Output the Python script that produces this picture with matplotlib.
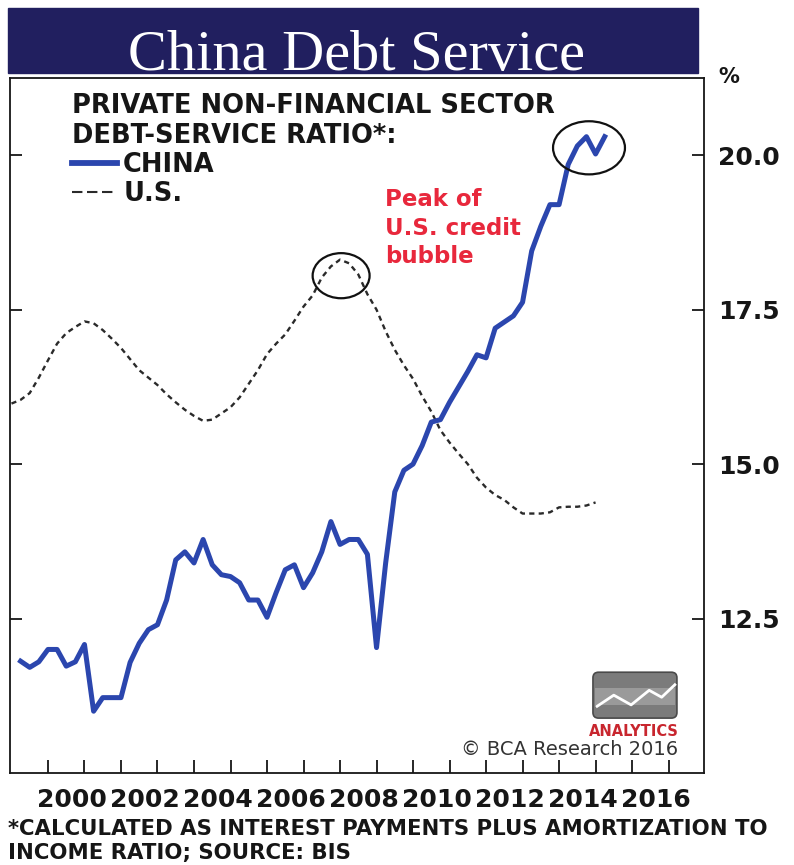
import numpy as np
import matplotlib.pyplot as plt
from matplotlib.lines import Line2D
from matplotlib.patches import Ellipse, Rectangle, FancyBboxPatch

# quarterly debt-service ratios (%)
china_start = 1999.25
china_ratio = [11.81, 11.71, 11.80,
               12.00, 12.00, 11.73, 11.80,
               12.08, 11.00, 11.22, 11.22,
               11.22, 11.79, 12.10, 12.32,
               12.40, 12.80, 13.45, 13.58,
               13.40, 13.78, 13.37, 13.21,
               13.18, 13.08, 12.80, 12.80,
               12.52, 12.92, 13.29, 13.37,
               13.00, 13.24, 13.58, 14.07,
               13.70, 13.78, 13.78, 13.54,
               12.03, 13.40, 14.55, 14.90,
               15.00, 15.30, 15.68, 15.72,
               16.00, 16.25, 16.50, 16.77,
               16.72, 17.20, 17.30, 17.40,
               17.62, 18.45, 18.85, 19.20,
               19.20, 19.85, 20.15, 20.30,
               20.02, 20.30]

us_start = 1999.0
us_ratio = [15.98, 16.04, 16.15, 16.40,
            16.68, 16.95, 17.12, 17.22,
            17.31, 17.28, 17.17, 17.03,
            16.88, 16.70, 16.52, 16.40,
            16.28, 16.13, 16.00, 15.88,
            15.78, 15.70, 15.72, 15.82,
            15.92, 16.08, 16.30, 16.52,
            16.78, 16.95, 17.10, 17.32,
            17.55, 17.73, 18.02, 18.20,
            18.31, 18.25, 18.07, 17.75,
            17.50, 17.15, 16.85, 16.60,
            16.38, 16.10, 15.85, 15.55,
            15.35, 15.17, 15.00, 14.78,
            14.62, 14.50, 14.42, 14.30,
            14.20, 14.20, 14.20, 14.22,
            14.30, 14.31, 14.31, 14.33,
            14.38]

year_ticks = list(range(2000, 2018))
year_labels = [str(y) for y in range(2000, 2017, 2)]
pct_ticks = [12.5, 15.0, 17.5, 20.0]

china_x = china_start + 0.25 * np.arange(len(china_ratio))
us_x = us_start + 0.25 * np.arange(len(us_ratio))

plt.rcParams['font.family'] = 'DejaVu Sans'
ink = '#161616'
blue = '#2b46ae'
dash_col = '#2a2a2a'

fig = plt.figure(figsize=(7.94, 8.65), dpi=100)
ax = fig.add_axes([10/794, 92/865, 694/794, 695/865])

ax.plot(china_x, china_ratio, color=blue, lw=3.6, solid_joinstyle='round',
        zorder=3)
ax.plot(us_x, us_ratio, color=dash_col, lw=1.7, ls=(0, (2.2, 1.8)), zorder=2)

ax.set_xlim(1998.96, 2017.97)
ax.set_ylim(10.0, 21.25)

# x axis: ticks at year starts, labels centred in the year
ax.set_xticks(year_ticks)
ax.set_xticks([int(s) + 0.66 for s in year_labels], labels=year_labels, minor=True)
ax.tick_params(axis='x', which='major', direction='in', length=9.4, width=1.3,
               labelbottom=False, color=ink)
ax.tick_params(axis='x', which='minor', length=0, pad=11, labelsize=18,
               labelcolor=ink)

ax.set_yticks(pct_ticks)
ax.set_yticklabels([f'{v:.1f}' for v in pct_ticks])
ax.tick_params(axis='y', direction='in', length=8.6, width=1.3, left=True,
               right=True, labelleft=False, labelright=True, pad=10,
               labelsize=18, labelcolor=ink, color=ink)
for lab in ax.get_xticklabels(minor=True) + ax.get_yticklabels():
    lab.set_fontweight('bold')

for sp in ax.spines.values():
    sp.set_linewidth(1.3)
    sp.set_color(ink)

# circles highlighting the peaks
ax.add_patch(Ellipse((2008.03, 18.05), 1.56, 0.73, fill=False, lw=1.6,
                     ec='#111111', zorder=4))
ax.add_patch(Ellipse((2014.82, 20.12), 1.97, 0.86, fill=False, lw=1.6,
                     ec='#111111', zorder=4))
ax.text(0.540, 0.842, 'Peak of\nU.S. credit\nbubble', transform=ax.transAxes,
        ha='left', va='top', color='#e8283c', fontsize=16.5, weight='bold',
        linespacing=1.32)

# legend with proxy handles (the legend dash is longer than the line's)
handles = [Line2D([], [], color=blue, lw=4.2),
           Line2D([], [], color=dash_col, lw=1.5, ls=(0, (5, 2.2)))]
leg = ax.legend(handles, ['CHINA', 'U.S.'], loc='upper left',
                bbox_to_anchor=(0.089, 0.979),
                title='PRIVATE NON-FINANCIAL SECTOR\nDEBT-SERVICE RATIO*:',
                alignment='left', frameon=False,
                prop=dict(weight='bold', size=18.5),
                title_fontproperties=dict(weight='bold', size=18.5),
                handlelength=1.75, handletextpad=0.25, labelspacing=0.12,
                borderpad=0, borderaxespad=0)
for t in leg.get_texts() + [leg.get_title()]:
    t.set_color(ink)

# logo + credit
ax.add_patch(FancyBboxPatch((0.840, 0.079), 0.121, 0.066, transform=ax.transAxes,
                            boxstyle='round,pad=0,rounding_size=0.008',
                            fc='#7b7b7b', ec='#4a4a4a', lw=1.2, zorder=5))
ax.add_patch(Rectangle((0.843, 0.098), 0.115, 0.024, transform=ax.transAxes,
                       fc='#9a9a9a', ec='none', zorder=5))
ax.plot([0.846, 0.870, 0.895, 0.921, 0.939, 0.958],
        [0.096, 0.112, 0.098, 0.119, 0.109, 0.127],
        transform=ax.transAxes, color='white', lw=2, zorder=6)
ax.text(0.899, 0.059, 'ANALYTICS', transform=ax.transAxes, ha='center',
        va='center', color='#c8262e', fontsize=10.5, weight='bold',
        family=['Liberation Sans Narrow', 'DejaVu Sans'])
ax.text(0.9625, 0.026, '\u00a9 BCA Research 2016', transform=ax.transAxes,
        ha='right', va='baseline', color='#333333', fontsize=14)

# title banner
fig.patches.append(Rectangle((8/794, 1 - 73/865), 690/794, 65/865,
                             transform=fig.transFigure, color='#211f5f'))
fig.text(356/794, 1 - 70/865, 'China Debt Service', ha='center',
         va='baseline', color='white', fontsize=42, family='Liberation Serif')

fig.text(718/794, 1 - 77/865, '%', ha='left', va='center', fontsize=15,
         weight='bold', color=ink)

fig.text(8/794, 1 - 819/865,
         '*CALCULATED AS INTEREST PAYMENTS PLUS AMORTIZATION TO\n'
         'INCOME RATIO; SOURCE: BIS',
         ha='left', va='top', fontsize=15.3, weight='bold', color=ink,
         linespacing=1.25)

fig.savefig('out.png', dpi=100)
